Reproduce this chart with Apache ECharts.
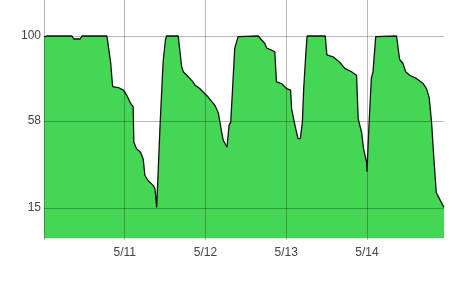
<!DOCTYPE html>
<html>
<head>
<meta charset="utf-8">
<script src="https://cdn.jsdelivr.net/npm/echarts@6/dist/echarts.min.js"></script>
<style>
html,body{margin:0;padding:0;background:#fff;}
#chart{width:460px;height:307px;}
</style>
</head>
<body>
<div id="chart"></div>
<script>
// hours since 5/10 00:00
var hours = [0,0.9,8.3,8.9,10.7,11.3,18.7,19.2,19.8,20.4,22.1,23.6,24.6,25.8,26.5,26.7,27.5,28.7,29.5,30.0,31.0,32.5,33.0,33.5,34.5,35.4,36.1,36.4,39.9,40.9,41.4,42.9,44.3,44.9,46.3,47.3,48.8,49.3,50.8,51.8,52.3,52.8,53.3,54.4,55.0,55.5,56.0,56.7,57.7,58.2,63.7,64.7,65.6,66.2,67.6,68.6,69.1,70.6,72.1,73.3,73.6,74.6,75.5,76.2,76.8,77.2,77.8,78.2,83.6,84.1,85.9,87.9,89.4,91.4,92.9,93.4,94.4,95.0,95.9,96.0,96.6,97.3,97.8,98.6,98.8,104.8,105.7,106.7,107.5,108.7,110.7,112.7,113.7,114.5,115.2,115.9,116.6,117.6,118.9];
var values = [99.5,100,100,98.5,98.5,100,100,94,87,75,74.5,73.2,70.7,66.5,65,47.5,44.2,42.5,39,31,28.4,26,24.3,15.2,55.8,87,98,100,100,85,82.3,79.8,77.3,75.6,74,72.3,69.8,69.8,65.7,62,57.4,52.4,48.3,45,55.8,57.4,72.3,94,99.7,100,100,98,96.4,94,93,92.2,77.3,76.5,74,73.2,64,55.8,49.2,49.2,57.4,74,90.6,100,100,90.6,89.7,87,84,82.3,80.6,59,52.4,44.2,37.5,32.9,55.8,79,82.3,99.7,100,100,88.5,86.4,82.3,80.6,79,76.5,74,69.5,57.4,39.2,22.6,19.3,15.2];
var xTickHours = [0,24,48,72,96];
var xTickLabels = ['','5/11','5/12','5/13','5/14'];
var yTicks = [15,58,100];

var data = hours.map(function(h,i){return [h, values[i]];});
var chart = echarts.init(document.getElementById('chart'));
var gridColor = 'rgba(0,0,0,0.27)';
chart.setOption({
  animation:false,
  grid:{left:44,right:16,top:0,bottom:67},
  xAxis:{
    type:'value', min:0, max:118.9, z:5,
    axisLine:{show:false},
    axisTick:{show:false, customValues:xTickHours},
    axisLabel:{customValues:xTickHours.slice(1), margin:7, color:'#444',
      fontFamily:'Liberation Sans, Arial, sans-serif', fontSize:12,
      formatter:function(v){var i=xTickHours.indexOf(v);return i>=0?xTickLabels[i]:'';}},
    splitLine:{show:true,lineStyle:{color:gridColor,width:1}}
  },
  yAxis:{
    type:'value', min:-0.9, max:117.8, z:5,
    axisLine:{show:false},
    axisTick:{show:false, customValues:yTicks},
    axisLabel:{customValues:yTicks, margin:3, color:'#444',
      fontFamily:'Liberation Sans, Arial, sans-serif', fontSize:12},
    splitLine:{show:true,lineStyle:{color:gridColor,width:1}}
  },
  series:[{
    type:'line', data:data, showSymbol:false, symbol:'none',
    lineStyle:{color:'#111',width:1.3},
    areaStyle:{color:'#46d656',opacity:1},
    z:2
  }]
});
</script>
</body>
</html>
